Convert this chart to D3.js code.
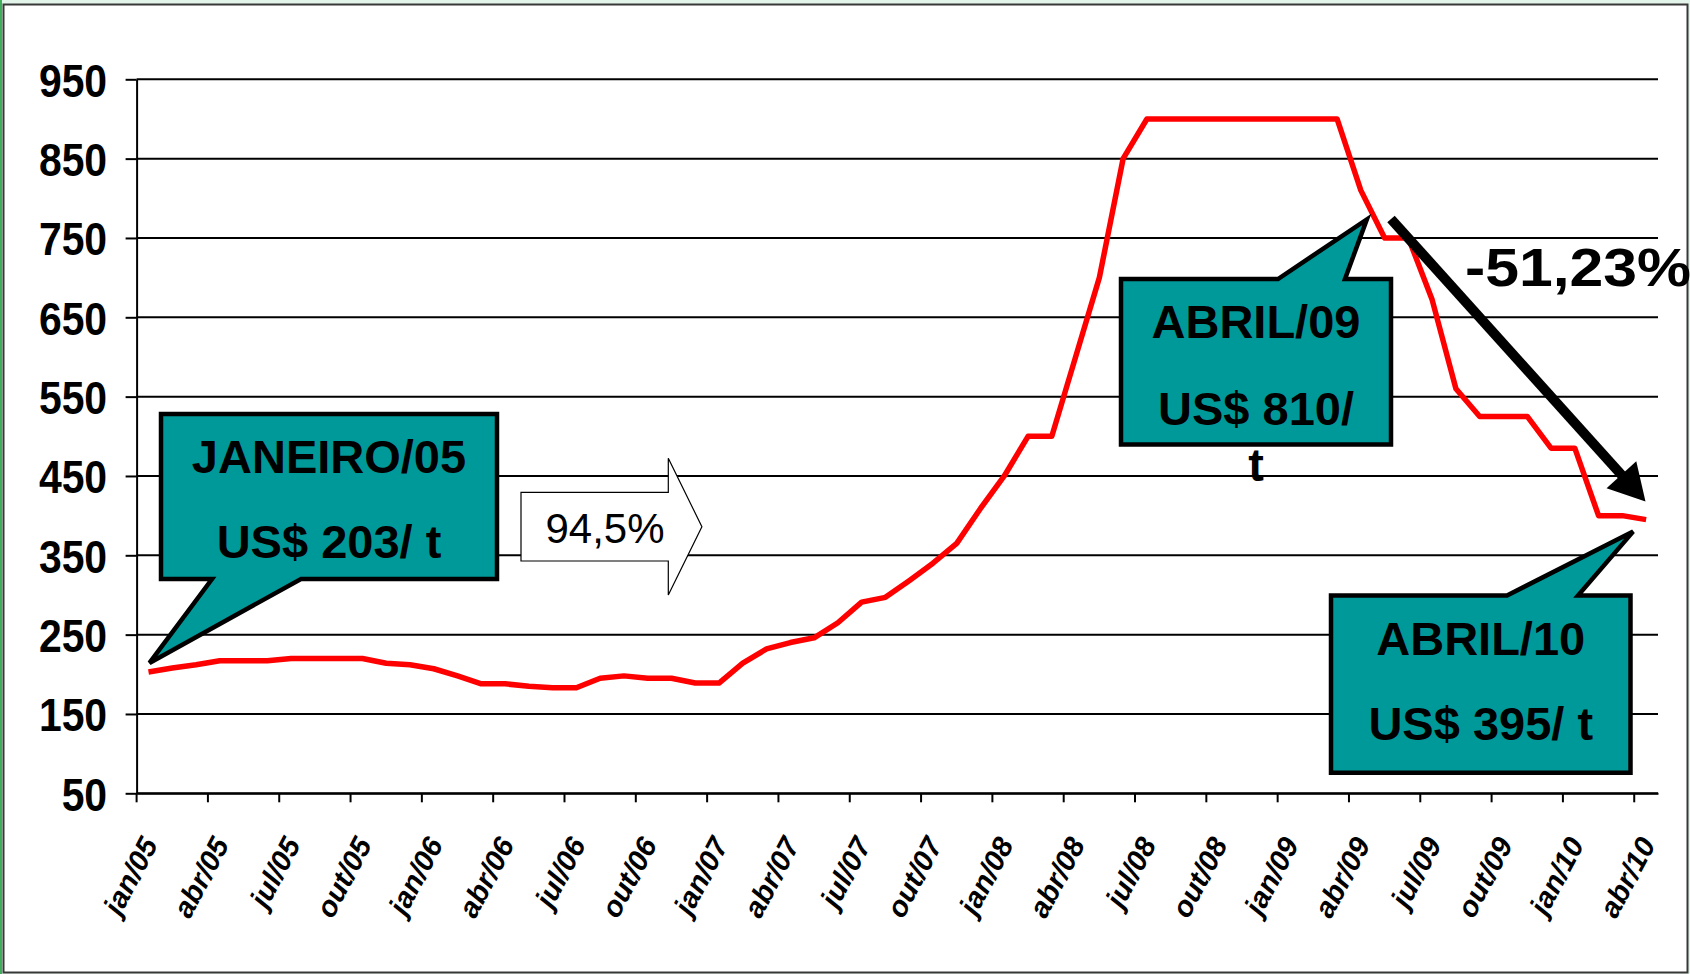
<!DOCTYPE html>
<html lang="pt">
  <head>
    <meta charset="UTF-8" />
    <title>Preço US$/t jan/05 - abr/10</title>
    <script src="https://d3js.org/d3.v7.min.js"></script>
    <style>
      body {
        margin: 0;
        background-color: #e3f5ea; /* mint around the frame */
        overflow: hidden;
      }
      svg {
        display: block;
        font-family: "Liberation Sans", Arial, sans-serif;
      }
    </style>
  </head>
  <body>
    <div id="chart"></div>

    <script>
      // Month names and years on the category axis
      const monthNames = ["jan", "fev", "mar", "abr", "mai", "jun", "jul", "ago", "set", "out", "nov", "dez"];
      const years = ["05", "06", "07", "08", "09", "10"];
      const months = years.flatMap((y) => monthNames.map((m) => m + "/" + y)).slice(0, 64); // jan/05 .. abr/10

      // Monthly price, US$/t
      const prices = [
        203, 208, 212, 217, 217, 217, 220, 220, 220, 220, 214, 212,
        207, 198, 188, 188, 185, 183, 183, 195, 198, 195, 195, 189,
        189, 214, 232, 240, 246, 265, 291, 297, 318, 340, 365, 409,
        450, 500, 500, 600, 700, 850, 900, 900, 900, 900, 900, 900,
        900, 900, 900, 810, 750, 750, 672, 560, 525, 525, 525, 485,
        485, 400, 400, 395
      ];

      const yTicks = [50, 150, 250, 350, 450, 550, 650, 750, 850, 950];
      const xTicks = months.filter((d, i) => i % 3 === 0);

      const W = 1690, H = 974;
      const plotLeft = 136.6, plotRight = 1658, plotTop = 79.3, plotBottom = 793.3;

      const svg = d3.select("#chart").append("svg").attr("width", W).attr("height", H);

      // Frame
      svg.append("rect").attr("x", 0).attr("y", 0).attr("width", 2).attr("height", H).attr("fill", "#3fae5a");
      svg.append("rect")
        .attr("x", 3.5).attr("y", 4.5).attr("width", 1684).attr("height", 968)
        .attr("fill", "#ffffff").attr("stroke", "#383838").attr("stroke-width", 2);

      // Scales
      const x = d3.scaleBand().domain(months).range([plotLeft, plotRight]);
      const y = d3.scaleLinear().domain([50, 950]).range([plotBottom, plotTop]);
      const cx = (m) => x(m) + x.bandwidth() / 2;

      // Gridlines
      svg.append("g")
        .selectAll("line")
        .data(yTicks)
        .enter()
        .append("line")
        .attr("x1", plotLeft).attr("x2", plotRight)
        .attr("y1", (d) => y(d)).attr("y2", (d) => y(d))
        .attr("stroke", "#000").attr("stroke-width", 2);

      // Y axis
      const yAxis = svg.append("g")
        .attr("transform", "translate(" + plotLeft + ",0)")
        .call(d3.axisLeft(y).tickValues(yTicks).tickSize(11).tickSizeOuter(0));
      yAxis.select(".domain").attr("stroke", "#000").attr("stroke-width", 2);
      yAxis.selectAll(".tick line").attr("stroke", "#000").attr("stroke-width", 2);
      yAxis.selectAll("text")
        .attr("x", -29.5 / 0.87)
        .attr("dy", "0.36em")
        .attr("transform", "scale(0.87,1)")
        .style("font-size", "47px")
        .style("font-weight", "bold")
        .attr("fill", "#000");

      // X axis, ticks sit on the left edge of each band
      const xAxis = svg.append("g")
        .attr("transform", "translate(0," + plotBottom + ")")
        .call(d3.axisBottom(x).tickValues(xTicks).tickSize(9).tickSizeOuter(0));
      xAxis.select(".domain").attr("stroke", "#000").attr("stroke-width", 2);
      xAxis.selectAll(".tick").attr("transform", (d) => "translate(" + x(d) + ",0)");
      xAxis.selectAll(".tick line").attr("stroke", "#000").attr("stroke-width", 2);
      xAxis.selectAll("text")
        .attr("x", 0).attr("y", 0).attr("dy", 0)
        .attr("transform", "translate(22,51) rotate(-62)")
        .style("text-anchor", "end")
        .style("font-size", "29px")
        .style("font-weight", "bold")
        .style("font-style", "italic")
        .attr("fill", "#000");

      // Price line
      const line = d3.line()
        .x((d, i) => cx(months[i]))
        .y((d) => y(d));
      svg.append("path")
        .datum(prices)
        .attr("d", line)
        .attr("fill", "none")
        .attr("stroke", "#ff0000")
        .attr("stroke-width", 5.5)
        .attr("stroke-linejoin", "round");

      // Block arrow with growth figure
      const blockArrow = [[521, 492.3], [668.3, 492.3], [668.3, 458.3], [701.9, 526.7], [668.3, 595], [668.3, 561], [521, 561]];
      svg.append("path")
        .attr("d", "M" + blockArrow.join("L") + "Z")
        .attr("fill", "#fff").attr("stroke", "#000").attr("stroke-width", 1.2);
      svg.append("text")
        .attr("x", 605).attr("y", 543)
        .attr("text-anchor", "middle")
        .style("font-size", "42px")
        .text("94,5%");

      // Callouts
      function callout(box, base, tip, side, lines) {
        const [x0, y0, x1, y1] = box;
        let d;
        if (side === "bottom") {
          d = `M${x0},${y0}H${x1}V${y1}H${base[1]}L${tip[0]},${tip[1]}L${base[0]},${y1}H${x0}Z`;
        } else {
          d = `M${x0},${y0}H${base[0]}L${tip[0]},${tip[1]}L${base[1]},${y0}H${x1}V${y1}H${x0}Z`;
        }
        svg.append("path")
          .attr("d", d)
          .attr("fill", "#009999")
          .attr("stroke", "#000")
          .attr("stroke-width", 4.5)
          .attr("stroke-linejoin", "miter");
        const mid = (x0 + x1) / 2;
        lines.forEach((l) => {
          svg.append("text")
            .attr("x", mid).attr("y", l[1])
            .attr("text-anchor", "middle")
            .style("font-size", "47px")
            .style("font-weight", "bold")
            .text(l[0]);
        });
      }

      callout([161, 414, 497, 579], [212, 301], [cx("jan/05") + 1, y(203) - 9], "bottom",
        [["JANEIRO/05", 473], ["US$ 203/ t", 558]]);
      callout([1121, 279, 1391, 444.5], [1278, 1345], [cx("abr/09") + 6, y(810) + 29], "top",
        [["ABRIL/09", 338], ["US$ 810/", 425], ["t", 481]]);
      callout([1331, 595.5, 1630.5, 772.8], [1507, 1578], [cx("abr/10") - 13, y(395) + 12], "top",
        [["ABRIL/10", 655], ["US$ 395/ t", 740]]);

      // Black trend arrow
      const a0 = [1391, 219], a1 = [1645.5, 501.5];
      const len = Math.hypot(a1[0] - a0[0], a1[1] - a0[1]);
      const u = [(a1[0] - a0[0]) / len, (a1[1] - a0[1]) / len];
      const p = [-u[1], u[0]];
      const hb = [a1[0] - 36 * u[0], a1[1] - 36 * u[1]];
      svg.append("line")
        .attr("x1", a0[0]).attr("y1", a0[1])
        .attr("x2", hb[0] + 2 * u[0]).attr("y2", hb[1] + 2 * u[1])
        .attr("stroke", "#000").attr("stroke-width", 10);
      svg.append("path")
        .attr("d", `M${a1[0]},${a1[1]}L${hb[0] + 20 * p[0]},${hb[1] + 20 * p[1]}L${hb[0] - 20 * p[0]},${hb[1] - 20 * p[1]}Z`)
        .attr("fill", "#000");

      svg.append("text")
        .attr("x", 1465).attr("y", 286)
        .attr("textLength", 226)
        .attr("lengthAdjust", "spacingAndGlyphs")
        .style("font-size", "54px")
        .style("font-weight", "bold")
        .text("-51,23%");
    </script>
  </body>
</html>
